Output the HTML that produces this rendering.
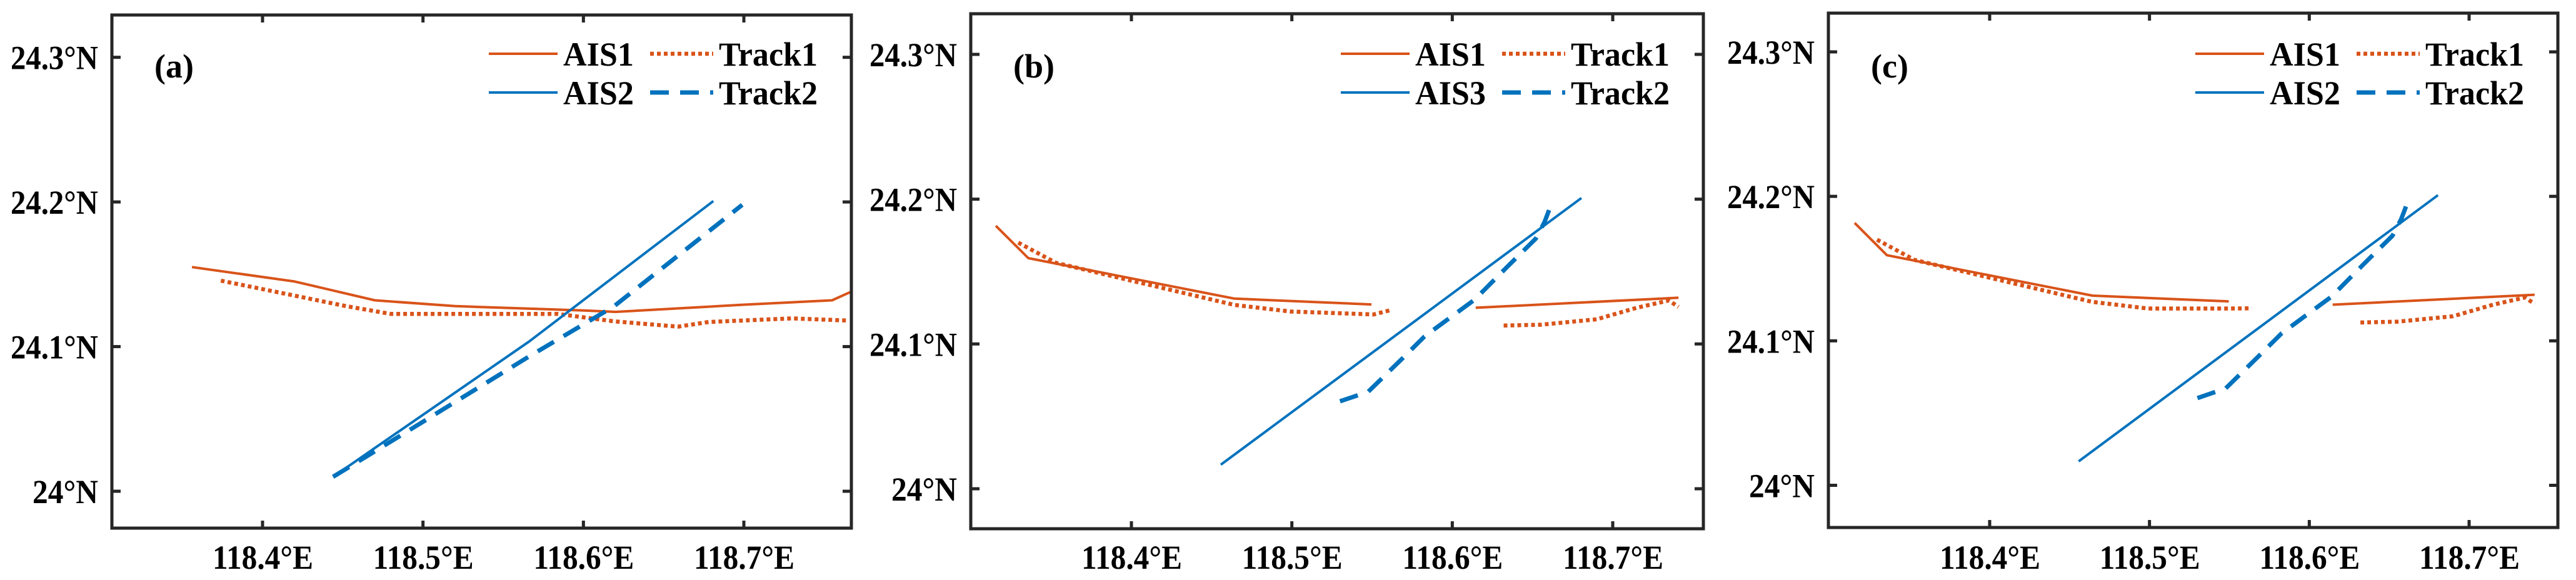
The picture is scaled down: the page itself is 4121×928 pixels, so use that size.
<!DOCTYPE html>
<html><head><meta charset="utf-8"><style>
html,body{margin:0;padding:0;background:#fff}
svg{display:block}
text{font-family:"Liberation Serif",serif;font-weight:bold;fill:#000}
</style></head><body>
<svg id="fig" width="4121" height="928" viewBox="0 0 4121 928" xmlns="http://www.w3.org/2000/svg"></svg>
<script>
// ---- data (lon, lat) ----
const xTicks = [118.4, 118.5, 118.6, 118.7];
const xTickLabels = ["118.4°E", "118.5°E", "118.6°E", "118.7°E"];
const yTicks = [24.0, 24.1, 24.2, 24.3];
const yTickLabels = ["24°N", "24.1°N", "24.2°N", "24.3°N"];

const aAIS1Lon = [118.356, 118.42, 118.47, 118.52, 118.6, 118.62, 118.7, 118.755, 118.767];
const aAIS1Lat = [24.155, 24.145, 24.132, 24.128, 24.125, 24.124, 24.129, 24.132, 24.138];
const aTrack1Lon = [118.374, 118.452, 118.480, 118.584, 118.619, 118.659, 118.678, 118.730, 118.765];
const aTrack1Lat = [24.1456, 24.128, 24.1226, 24.1226, 24.1175, 24.1138, 24.117, 24.1195, 24.118];
const aAIS2Lon = [118.444, 118.566, 118.681];
const aAIS2Lat = [24.010, 24.1034, 24.2006];
const aTrack2Lon = [118.444, 118.480, 118.566, 118.619, 118.699];
const aTrack2Lat = [24.010, 24.0344, 24.0931, 24.1278, 24.198];

const bAIS1aLon = [118.3155, 118.3357, 118.4643, 118.5496];
const bAIS1aLat = [24.1816, 24.1593, 24.1313, 24.1273];
const bAIS1bLon = [118.6146, 118.741];
const bAIS1bLat = [24.125, 24.1319];
const bTrack1aLon = [118.3295, 118.353, 118.464, 118.499, 118.551, 118.562];
const bTrack1aLat = [24.170, 24.156, 24.127, 24.1224, 24.1204, 24.1235];
const bTrack1bLon = [118.632, 118.6555, 118.690, 118.715, 118.735, 118.741];
const bTrack1bLat = [24.1127, 24.1133, 24.117, 24.125, 24.130, 24.1256];
const bAIS3Lon = [118.4557, 118.6805];
const bAIS3Lat = [24.0166, 24.2008];
const bTrack2Lon = [118.530, 118.5476, 118.5687, 118.5827, 118.614, 118.6345, 118.652, 118.6575, 118.6606];
const bTrack2Lat = [24.0604, 24.067, 24.0898, 24.1052, 24.1307, 24.1536, 24.1727, 24.1842, 24.1933];

const cAIS1aLon = [118.3155, 118.3357, 118.4643, 118.5496];
const cAIS1aLat = [24.1816, 24.1593, 24.1313, 24.1273];
const cAIS1bLon = [118.6146, 118.741];
const cAIS1bLat = [24.125, 24.1319];
const cTrack1aLon = [118.3295, 118.353, 118.464, 118.499, 118.551, 118.564];
const cTrack1aLat = [24.170, 24.156, 24.127, 24.1224, 24.1224, 24.1225];
const cTrack1bLon = [118.632, 118.6555, 118.690, 118.715, 118.735, 118.741];
const cTrack1bLat = [24.1127, 24.1133, 24.117, 24.125, 24.130, 24.1256];
const cAIS2Lon = [118.4557, 118.6805];
const cAIS2Lat = [24.0166, 24.2008];
const cTrack2Lon = [118.530, 118.5476, 118.5687, 118.5827, 118.614, 118.6345, 118.652, 118.6575, 118.6606];
const cTrack2Lat = [24.0604, 24.067, 24.0898, 24.1052, 24.1307, 24.1536, 24.1727, 24.1842, 24.1933];

const ORANGE = "#D95319", BLUE = "#0072BD", AX = "#262626";
const NS = "http://www.w3.org/2000/svg";
const svg = document.getElementById("fig");
function mk(tag, attrs, parent) {
  const e = document.createElementNS(NS, tag);
  for (const k in attrs) e.setAttribute(k, attrs[k]);
  (parent || svg).appendChild(e);
  return e;
}
const STY = {
  solid: {w: 4, dash: null},
  dotted: {w: 6.5, dash: "6 5"},
  dashed: {w: 7, dash: "30 18"}
};
const FS = 54;

function panel(p) {
  const g = mk("g", {});
  
  
  const sx = (p.x2 - p.x1) / 0.3, sy = (p.y0 - p.y3) / 0.3;
  const X = v => p.x1 + (v - 118.4) * sx;
  const Y = v => p.y0 - (v - 24.0) * sy;
  const cid = "clip-" + p.id;
  const cp = mk("clipPath", {id: cid}, g);
  mk("rect", {x: p.L, y: p.T, width: p.R - p.L, height: p.B - p.T}, cp);
  const lg = mk("g", {"clip-path": "url(#" + cid + ")"}, g);
  p.series.forEach(s => {
    const pts = s.lon.map((v, i) => X(v).toFixed(1) + "," + Y(s.lat[i]).toFixed(1)).join(" ");
    const st = STY[s.style];
    const a = {points: pts, fill: "none", stroke: s.color, "stroke-width": st.w, "stroke-linejoin": "round"};
    if (st.dash) a["stroke-dasharray"] = st.dash;
    const pl = mk("polyline", a, lg);
    
    
  });
  const box = mk("rect", {x: p.L, y: p.T, width: p.R - p.L, height: p.B - p.T, fill: "none", stroke: AX, "stroke-width": 5}, g);
  
  
  xTicks.forEach((v, i) => {
    const x = X(v);
    mk("line", {x1: x, x2: x, y1: p.B, y2: p.B - 12, stroke: AX, "stroke-width": 5}, g);
    mk("line", {x1: x, x2: x, y1: p.T, y2: p.T + 12, stroke: AX, "stroke-width": 5}, g);
    const t = mk("text", {x: x - 80, y: 910, "font-size": FS, fill: AX, textLength: 161, lengthAdjust: "spacingAndGlyphs"}, g);
    t.textContent = xTickLabels[i];
    
    
  });
  yTicks.forEach((v, i) => {
    const y = Y(v);
    mk("line", {x1: p.L, x2: p.L + 14, y1: y, y2: y, stroke: AX, "stroke-width": 5}, g);
    mk("line", {x1: p.R, x2: p.R - 14, y1: y, y2: y, stroke: AX, "stroke-width": 5}, g);
    const w = yTickLabels[i].length === 4 ? 105 : 140;
    const t = mk("text", {x: p.L - 22 - w, y: y + 19, "font-size": FS, fill: AX, textLength: w, lengthAdjust: "spacingAndGlyphs"}, g);
    t.textContent = yTickLabels[i];
    
    
  });
  const lbl = mk("text", {x: p.L + 68, y: 124, "font-size": FS}, g);
  lbl.textContent = "(" + p.id + ")";
  
  
  const leg = mk("g", {}, g);
  
  
  const R = p.R;
  const ent = [
    [R - 580, R - 470, 86, 105, ORANGE, "solid", "AIS1", 113],
    [R - 322, R - 221, 86, 105, ORANGE, "dotted", "Track1", 158],
    [R - 580, R - 470, 148, 167, BLUE, "solid", p.ais2, 113],
    [R - 322, R - 221, 148, 167, BLUE, "dashed", "Track2", 158]
  ];
  ent.forEach(e => {
    const st = STY[e[5]];
    const a = {x1: e[0], x2: e[1], y1: e[2], y2: e[2], stroke: e[4], "stroke-width": st.w};
    if (st.dash) a["stroke-dasharray"] = st.dash;
    mk("line", a, leg);
    const t = mk("text", {x: e[1] + 9, y: e[3], "font-size": FS, textLength: e[7], lengthAdjust: "spacingAndGlyphs"}, leg);
    t.textContent = e[6];
    
    
  });
}

panel({id: "a", L: 179, R: 1362, T: 24, B: 845, x1: 420, x2: 1190, y0: 786, y3: 91.7, ais2: "AIS2",
  series: [
    {name: "ais1", lon: aAIS1Lon, lat: aAIS1Lat, color: ORANGE, style: "solid"},
    {name: "track1", lon: aTrack1Lon, lat: aTrack1Lat, color: ORANGE, style: "dotted"},
    {name: "ais2", lon: aAIS2Lon, lat: aAIS2Lat, color: BLUE, style: "solid"},
    {name: "track2", lon: aTrack2Lon, lat: aTrack2Lat, color: BLUE, style: "dashed"}
  ]});
panel({id: "b", L: 1553, R: 2725, T: 22, B: 846, x1: 1810, x2: 2580, y0: 782, y3: 87, ais2: "AIS3",
  series: [
    {name: "ais1-west", lon: bAIS1aLon, lat: bAIS1aLat, color: ORANGE, style: "solid"},
    {name: "ais1-east", lon: bAIS1bLon, lat: bAIS1bLat, color: ORANGE, style: "solid"},
    {name: "track1-west", lon: bTrack1aLon, lat: bTrack1aLat, color: ORANGE, style: "dotted"},
    {name: "track1-east", lon: bTrack1bLon, lat: bTrack1bLat, color: ORANGE, style: "dotted"},
    {name: "ais3", lon: bAIS3Lon, lat: bAIS3Lat, color: BLUE, style: "solid"},
    {name: "track2", lon: bTrack2Lon, lat: bTrack2Lat, color: BLUE, style: "dashed"}
  ]});
panel({id: "c", L: 2925, R: 4092, T: 21, B: 844, x1: 3183, x2: 3950, y0: 776.5, y3: 83, ais2: "AIS2",
  series: [
    {name: "ais1-west", lon: cAIS1aLon, lat: cAIS1aLat, color: ORANGE, style: "solid"},
    {name: "ais1-east", lon: cAIS1bLon, lat: cAIS1bLat, color: ORANGE, style: "solid"},
    {name: "track1-west", lon: cTrack1aLon, lat: cTrack1aLat, color: ORANGE, style: "dotted"},
    {name: "track1-east", lon: cTrack1bLon, lat: cTrack1bLat, color: ORANGE, style: "dotted"},
    {name: "ais2", lon: cAIS2Lon, lat: cAIS2Lat, color: BLUE, style: "solid"},
    {name: "track2", lon: cTrack2Lon, lat: cTrack2Lat, color: BLUE, style: "dashed"}
  ]});
</script>
</body></html>
